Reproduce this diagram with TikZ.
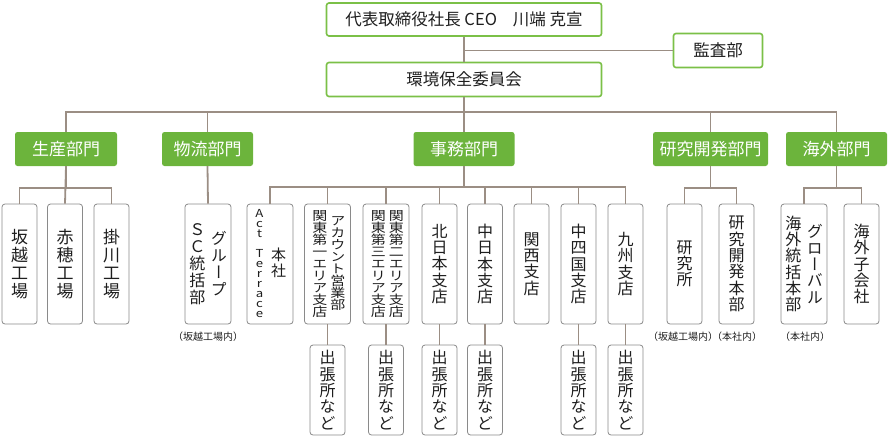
\documentclass[tikz,border=0pt]{standalone}
\usepackage{fontspec}
\usepackage{tikz}
\setmainfont{Noto Sans CJK JP}
\newfontfamily\tatefont[RawFeature=+vert]{Noto Sans CJK JP}
\newfontfamily\tatewide[RawFeature=+vert,FakeStretch=1.2]{Noto Sans CJK JP}
\definecolor{leaf}{HTML}{6CB43C}
\definecolor{leafframe}{HTML}{7BC047}
\definecolor{wirecolor}{HTML}{9B8E84}
\definecolor{boxframe}{HTML}{8A8A8A}
\definecolor{ink}{HTML}{1E1E1E}
\newcommand{\tate}[1]{\parbox[c]{1em}{\lineskiplimit=-20pt\centering#1}}
\newcommand{\pair}[2]{\tate{#1}\hspace{5.5pt}\tate{#2}}
\tikzset{
  % node options
  head/.style={rectangle,draw=leafframe,line width=1.6pt,fill=white,rounded corners=2.5pt,
    minimum width=275pt,minimum height=33pt,inner sep=0pt,text=ink,font=\fontsize{16.5}{18}\selectfont},
  dept/.style={rectangle,fill=leaf,rounded corners=2.5pt,minimum height=34pt,inner sep=0pt,
    text=white,font=\fontsize{17}{18}\selectfont},
  unit/.style={rectangle,draw=boxframe,line width=0.8pt,fill=white,rounded corners=3pt,
    minimum width=35pt,minimum height=120pt,inner sep=0pt,text=ink,font=\tatefont\fontsize{16}{16.3}\selectfont},
  koujou/.style={unit,font=\tatefont\fontsize{17}{18}\selectfont},
  twin/.style={unit,minimum width=46pt},
  twinsmall/.style={twin,font=\tatewide\fontsize{12.5}{12}\selectfont},
  branch/.style={unit,minimum height=90pt},
  note/.style={inner sep=0pt,text=ink,font=\fontsize{10}{11}\selectfont},
  % path options
  wire/.style={draw=wirecolor,line width=1.8pt},
}
% top and departments
\newcommand{\CEO}{\node[head] (CEO) at (464,19.5) {代表取締役社長 CEO\hspace{16pt}川端 克宣};}
\newcommand{\Kansa}{\node[head,minimum width=89pt,minimum height=34pt] (Kansa) at (718,50.5) {監査部};}
\newcommand{\Kankyo}{\node[head,minimum height=34pt] (Kankyo) at (464,79.5) {環境保全委員会};}
\newcommand{\Seisan}{\node[dept,minimum width=102pt] (Seisan) at (66,149) {生産部門};}
\newcommand{\Butsuryu}{\node[dept,minimum width=91pt] (Butsuryu) at (207.5,149) {物流部門};}
\newcommand{\Jimu}{\node[dept,minimum width=101pt] (Jimu) at (464,149) {事務部門};}
\newcommand{\Kenkyu}{\node[dept,minimum width=115pt] (Kenkyu) at (710.5,149) {研究開発部門};}
\newcommand{\Kaigai}{\node[dept,minimum width=101pt] (Kaigai) at (836.5,149) {海外部門};}
% units
\newcommand{\Sakoshi}{\node[koujou] (Sakoshi) at (19.5,264) {\tate{坂\\越\\工\\場}};}
\newcommand{\Ako}{\node[koujou] (Ako) at (65,264) {\tate{赤\\穂\\工\\場}};}
\newcommand{\Kakegawa}{\node[koujou] (Kakegawa) at (111.5,264) {\tate{掛\\川\\工\\場}};}
\newcommand{\SCToukatsu}{\node[twin,font=\tatefont\fontsize{16}{17}\selectfont] (SC Toukatsu) at (208,264)
  {\pair{Ｓ\\Ｃ\\統\\括\\部}{グ\\ル\\ー\\プ}};}
\newcommand{\ActTerrace}{\node[twin] (Act Terrace) at (270,264)
  {{\tatewide\fontsize{11}{10}\selectfont\tate{A\\c\\t\\\mbox{}\\T\\e\\r\\r\\a\\c\\e}}\hspace{6pt}{\fontsize{15}{16}\selectfont\tate{本\\社}}};}
\newcommand{\Account}{\node[twinsmall] (Account) at (327.5,264)
  {\pair{関\\東\\第\\一\\エ\\リ\\ア\\支\\店}{ア\\カ\\ウ\\ン\\ト\\営\\業\\部}};}
\newcommand{\Kanto}{\node[twinsmall] (Kanto) at (386,264)
  {\pair{関\\東\\第\\三\\エ\\リ\\ア\\支\\店}{関\\東\\第\\二\\エ\\リ\\ア\\支\\店}};}
\newcommand{\KitaNihon}{\node[unit] (Kita Nihon) at (439.5,264) {\tate{北\\日\\本\\支\\店}};}
\newcommand{\NakaNihon}{\node[unit] (Naka Nihon) at (485,264) {\tate{中\\日\\本\\支\\店}};}
\newcommand{\Kansai}{\node[unit] (Kansai) at (531.5,264) {\tate{関\\西\\支\\店}};}
\newcommand{\Chushikoku}{\node[unit] (Chushikoku) at (578.5,264) {\tate{中\\四\\国\\支\\店}};}
\newcommand{\Kyushu}{\node[unit] (Kyushu) at (625.5,264) {\tate{九\\州\\支\\店}};}
\newcommand{\Kenkyusho}{\node[unit] (Kenkyusho) at (684.5,264) {\tate{研\\究\\所}};}
\newcommand{\KenkyuHonbu}{\node[unit] (Kenkyu Honbu) at (736.5,264) {\tate{研\\究\\開\\発\\本\\部}};}
\newcommand{\GlobalHonbu}{\node[twin] (Global Honbu) at (804,264)
  {\pair{海\\外\\統\\括\\本\\部}{グ\\ロ\\ー\\バ\\ル}};}
\newcommand{\Kogaisha}{\node[unit] (Kogaisha) at (861.5,264) {\tate{海\\外\\子\\会\\社}};}

\begin{document}
\begin{tikzpicture}[x=1pt,y=-1pt]
    \useasboundingbox (0,0) rectangle (888,445);
    \CEO \Kansa \Kankyo
    \Seisan \Butsuryu \Jimu \Kenkyu \Kaigai
    \Sakoshi \Ako \Kakegawa \SCToukatsu
    \ActTerrace \Account \Kanto \KitaNihon \NakaNihon \Kansai \Chushikoku \Kyushu
    \Kenkyusho \KenkyuHonbu \GlobalHonbu \Kogaisha
    % branch offices
    \node[branch] (Account branch) at (327.5,390) {\tate{出\\張\\所\\な\\ど}};
    \node[branch] (Kanto branch) at (386,390) {\tate{出\\張\\所\\な\\ど}};
    \node[branch] (Kita Nihon branch) at (439.5,390) {\tate{出\\張\\所\\な\\ど}};
    \node[branch] (Naka Nihon branch) at (485,390) {\tate{出\\張\\所\\な\\ど}};
    \node[branch] (Chushikoku branch) at (578.5,390) {\tate{出\\張\\所\\な\\ど}};
    \node[branch] (Kyushu branch) at (625.5,390) {\tate{出\\張\\所\\な\\ど}};
    % notes
    \node[note] (SC note) at (208,337) {（坂越工場内）};
    \node[note] (Kenkyusho note) at (683,337) {（坂越工場内）};
    \node[note] (Honbu note) at (737,337) {（本社内）};
    \node[note] (Global note) at (805,337) {（本社内）};
    % lines
    \draw[wire] (CEO.south) -- (Kankyo.north);
    \draw[wire] (Kansa.west) -- (Kansa.west -| CEO.south);
    \draw[wire] (Kankyo.south) -- ++(0,15) -| (Seisan.north);
    \draw[wire] (Kankyo.south) -- ++(0,15) -| (Butsuryu.north);
    \draw[wire] (Kankyo.south) -- (Jimu.north);
    \draw[wire] (Kankyo.south) -- ++(0,15) -| (Kenkyu.north);
    \draw[wire] (Kankyo.south) -- ++(0,15) -| (Kaigai.north);
    \draw[wire] (Seisan.south) -- ++(0,22) -| (Sakoshi.north);
    \draw[wire] (Seisan.south) -- (Ako.north);
    \draw[wire] (Seisan.south) -- ++(0,22) -| (Kakegawa.north);
    \draw[wire] (Butsuryu.south) -- (SC Toukatsu.north);
    \draw[wire] (Jimu.south) -- ++(0,21) -| (Act Terrace.north);
    \draw[wire] (Jimu.south) -- ++(0,21) -| (Account.north);
    \draw[wire] (Jimu.south) -- ++(0,21) -| (Kanto.north);
    \draw[wire] (Jimu.south) -- ++(0,21) -| (Kita Nihon.north);
    \draw[wire] (Jimu.south) -- ++(0,21) -| (Naka Nihon.north);
    \draw[wire] (Jimu.south) -- ++(0,21) -| (Kansai.north);
    \draw[wire] (Jimu.south) -- ++(0,21) -| (Chushikoku.north);
    \draw[wire] (Jimu.south) -- ++(0,21) -| (Kyushu.north);
    \draw[wire] (Kenkyu.south) -- ++(0,22) -| (Kenkyusho.north);
    \draw[wire] (Kenkyu.south) -- ++(0,22) -| (Kenkyu Honbu.north);
    \draw[wire] (Kaigai.south) -- ++(0,22) -| (Global Honbu.north);
    \draw[wire] (Kaigai.south) -- ++(0,22) -| (Kogaisha.north);
    \draw[wire] (Account.south) -- (Account branch.north);
    \draw[wire] (Kanto.south) -- (Kanto branch.north);
    \draw[wire] (Kita Nihon.south) -- (Kita Nihon branch.north);
    \draw[wire] (Naka Nihon.south) -- (Naka Nihon branch.north);
    \draw[wire] (Chushikoku.south) -- (Chushikoku branch.north);
    \draw[wire] (Kyushu.south) -- (Kyushu branch.north);
  \end{tikzpicture}
\end{document}
